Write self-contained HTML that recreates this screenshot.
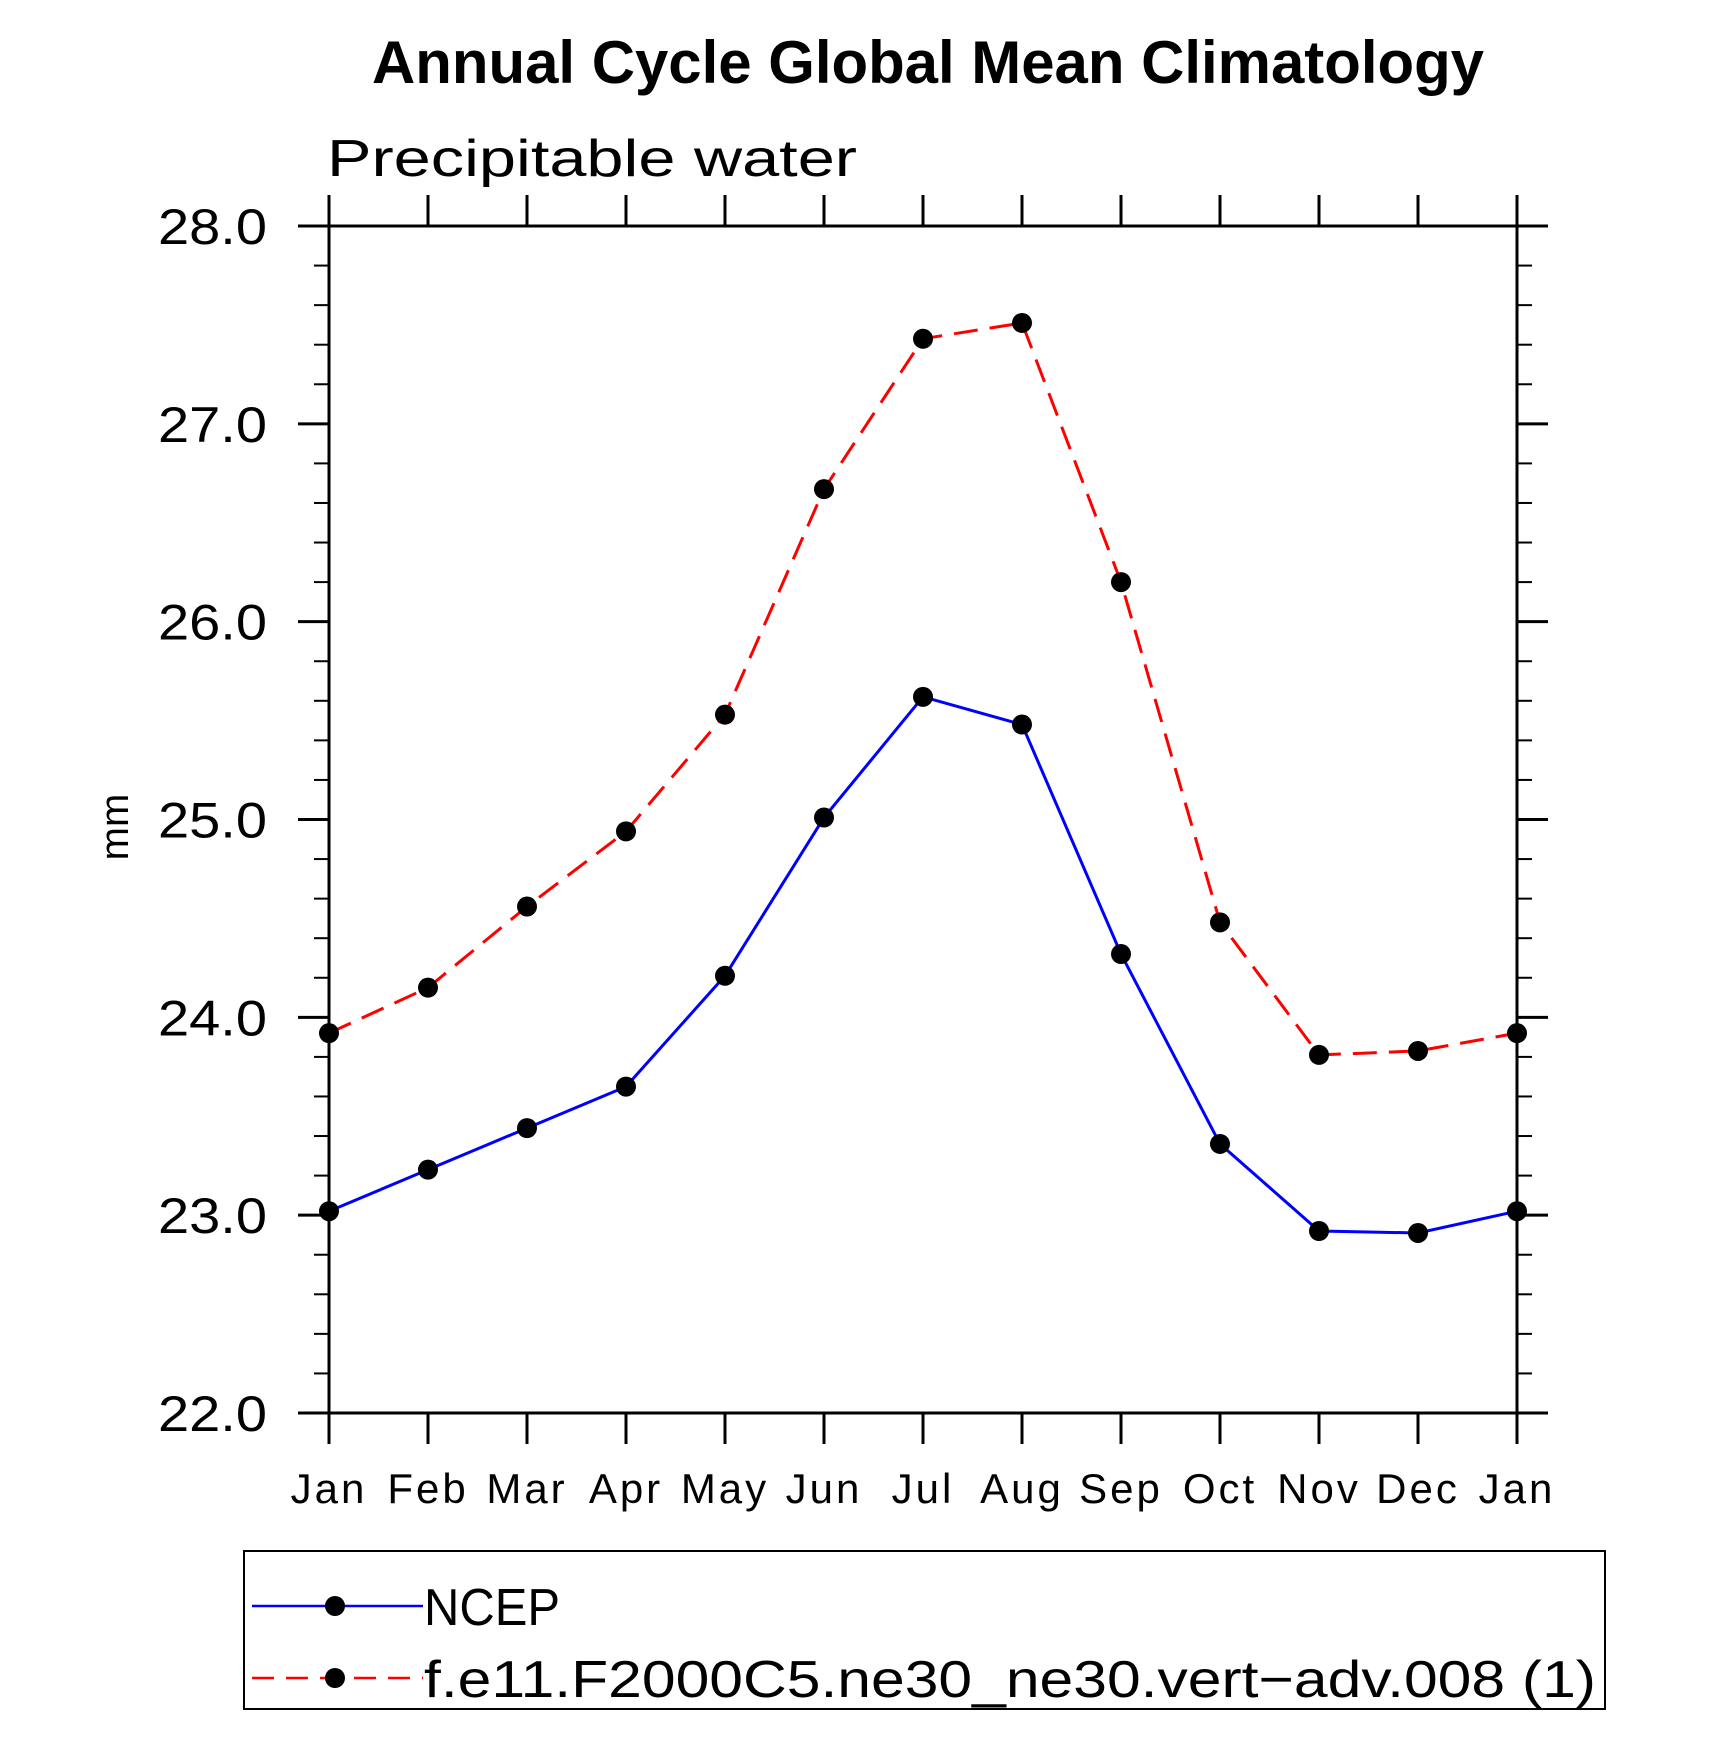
<!DOCTYPE html>
<html><head><meta charset="utf-8"><style>
body{margin:0;background:#fff}
svg{display:block;font-family:"Liberation Sans",sans-serif}
</style></head><body>
<svg id="chart" width="1710" height="1750" viewBox="0 0 1710 1750">
<text x="928" y="83" font-size="60" font-weight="bold" text-anchor="middle" textLength="1112" lengthAdjust="spacingAndGlyphs">Annual Cycle Global Mean Climatology</text>
<text x="327" y="176" font-size="52" textLength="530" lengthAdjust="spacingAndGlyphs">Precipitable water</text>
<text transform="translate(128,827) rotate(-90)" font-size="40" text-anchor="middle">mm</text>
<g id="axes"></g>
<g id="series"></g>
<g id="legend">
<rect x="244" y="1551" width="1361" height="158" fill="none" stroke="#000" stroke-width="2"/>
<g>
<line x1="252" y1="1606" x2="423" y2="1606" stroke="#0000ff" stroke-width="2.5"/>
<circle cx="335" cy="1606" r="10"/>
<text x="424" y="1625" font-size="52" textLength="136" lengthAdjust="spacingAndGlyphs">NCEP</text>
</g>
<g>
<line x1="252" y1="1678" x2="423" y2="1678" stroke="#ff0000" stroke-width="2.5" stroke-dasharray="22,12"/>
<circle cx="335" cy="1678" r="10"/>
<text x="424" y="1697" font-size="52" textLength="1172" lengthAdjust="spacingAndGlyphs">f.e11.F2000C5.ne30_ne30.vert−adv.008 (1)</text>
</g>
</g>
</svg>
<script>
const months = ["Jan","Feb","Mar","Apr","May","Jun","Jul","Aug","Sep","Oct","Nov","Dec","Jan"];
const ncep = [23.02,23.23,23.44,23.65,24.21,25.01,25.62,25.48,24.32,23.36,22.92,22.91,23.02];
const model = [23.92,24.15,24.56,24.94,25.53,26.67,27.43,27.51,26.20,24.48,23.81,23.83,23.92];
const yTicks = [22,23,24,25,26,27,28];
const yTickLabels = ["22.0","23.0","24.0","25.0","26.0","27.0","28.0"];

const NS="http://www.w3.org/2000/svg";
const L=329,R=1517,T=226,B=1413,yMin=22,yMax=28;
const xs=i=>L+(R-L)*i/(months.length-1);
const ys=v=>B-(v-yMin)/(yMax-yMin)*(B-T);
function mk(tag,attrs,parent){const e=document.createElementNS(NS,tag);for(const k in attrs)e.setAttribute(k,attrs[k]);parent.appendChild(e);return e;}
const ax=document.getElementById('axes');
let f=mk('rect',{x:L,y:T,width:R-L,height:B-T,fill:'none',stroke:'#000','stroke-width':3},ax);


for(let v=yMin;v<=yMax+1e-9;v+=0.2){
  const y=ys(v);
  mk('line',{x1:L-15,x2:L,y1:y,y2:y,stroke:'#000','stroke-width':2},ax);
  mk('line',{x1:R,x2:R+15,y1:y,y2:y,stroke:'#000','stroke-width':2},ax);
}
yTicks.forEach((v,i)=>{
  const y=ys(v);
  mk('line',{x1:L-31,x2:L,y1:y,y2:y,stroke:'#000','stroke-width':3},ax);
  mk('line',{x1:R,x2:R+31,y1:y,y2:y,stroke:'#000','stroke-width':3},ax);
  const t=mk('text',{x:158,y:y+18,'font-size':50,textLength:109,lengthAdjust:'spacingAndGlyphs'},ax);
  t.textContent=yTickLabels[i];
  
  
});
months.forEach((m,i)=>{
  const x=xs(i);
  mk('line',{x1:x,x2:x,y1:B,y2:B+31,stroke:'#000','stroke-width':3},ax);
  mk('line',{x1:x,x2:x,y1:T-31,y2:T,stroke:'#000','stroke-width':3},ax);
  const t=mk('text',{x:x,y:1503,'font-size':42,'text-anchor':'middle','letter-spacing':'3'},ax);
  t.textContent=m;
  
  
});
const sg=document.getElementById('series');
function drawSeries(vals,color,dash,name){
  const g=mk('g',{},sg);
  
  
  const p=mk('polyline',{points:vals.map((v,i)=>xs(i)+','+ys(v)).join(' '),fill:'none',stroke:color,'stroke-width':3},g);
  if(dash)p.setAttribute('stroke-dasharray',dash);
  vals.forEach((v,i)=>{
    const c=mk('circle',{cx:xs(i),cy:ys(v),r:10,fill:'#000'},g);
    
    
  });
}
drawSeries(model,'#ff0000','24,12','model-series');
drawSeries(ncep,'#0000ff',null,'ncep-series');
</script>
</body></html>
